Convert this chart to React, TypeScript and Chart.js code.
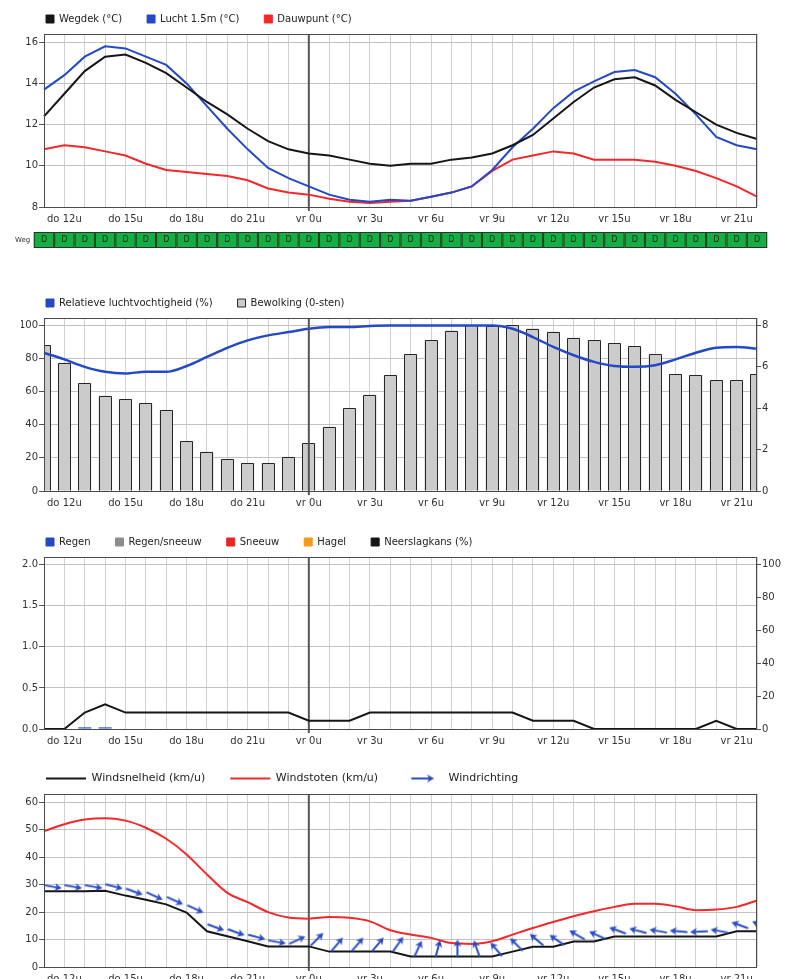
import React, { useEffect, useRef } from 'react';
import { Chart, registerables } from 'chart.js';

Chart.register(...registerables);

// ---------- data ----------
const hourLabels = [
  'do 11u', 'do 12u', 'do 13u', 'do 14u', 'do 15u', 'do 16u', 'do 17u', 'do 18u', 'do 19u', 'do 20u',
  'do 21u', 'do 22u', 'do 23u', 'vr 0u', 'vr 1u', 'vr 2u', 'vr 3u', 'vr 4u', 'vr 5u', 'vr 6u',
  'vr 7u', 'vr 8u', 'vr 9u', 'vr 10u', 'vr 11u', 'vr 12u', 'vr 13u', 'vr 14u', 'vr 15u', 'vr 16u',
  'vr 17u', 'vr 18u', 'vr 19u', 'vr 20u', 'vr 21u', 'vr 22u',
];
const dayStartLabel = 'vr 0u';

const roadTemp = [12.4, 13.5, 14.6, 15.3, 15.4, 15.0, 14.5, 13.8, 13.1, 12.5, 11.8, 11.2, 10.8, 10.6, 10.5, 10.3, 10.1, 10.0, 10.1, 10.1, 10.3, 10.4, 10.6, 11.0, 11.5, 12.3, 13.1, 13.8, 14.2, 14.3, 13.9, 13.2, 12.6, 12.0, 11.6, 11.3];
const airTemp = [13.7, 14.4, 15.3, 15.8, 15.7, 15.3, 14.9, 14.0, 12.9, 11.8, 10.8, 9.9, 9.4, 9.0, 8.6, 8.35, 8.25, 8.35, 8.3, 8.5, 8.7, 9.0, 9.8, 10.9, 11.8, 12.8, 13.6, 14.1, 14.55, 14.65, 14.3, 13.5, 12.5, 11.4, 11.0, 10.8];
const dewPoint = [10.8, 11.0, 10.9, 10.7, 10.5, 10.1, 9.8, 9.7, 9.6, 9.5, 9.3, 8.9, 8.7, 8.6, 8.4, 8.25, 8.2, 8.25, 8.3, 8.5, 8.7, 9.0, 9.75, 10.3, 10.5, 10.7, 10.6, 10.3, 10.3, 10.3, 10.2, 10.0, 9.75, 9.4, 9.0, 8.5];
const roadLabel = 'Weg';
const roadState = ['D', 'D', 'D', 'D', 'D', 'D', 'D', 'D', 'D', 'D', 'D', 'D', 'D', 'D', 'D', 'D', 'D', 'D', 'D', 'D', 'D', 'D', 'D', 'D', 'D', 'D', 'D', 'D', 'D', 'D', 'D', 'D', 'D', 'D', 'D', 'D'];

const humidity = [83.5, 79.5, 75, 72, 71, 72, 72, 75.5, 81, 86.5, 91, 94, 96, 98, 99, 99, 99.7, 100, 100, 100, 100, 100, 100, 98, 93, 87, 82, 78, 75.5, 75, 76, 79.5, 83.5, 86.5, 87, 86];
const cloudOcta = [7.05, 6.2, 5.2, 4.6, 4.45, 4.25, 3.9, 2.4, 1.9, 1.55, 1.35, 1.35, 1.65, 2.3, 3.1, 4.0, 4.65, 5.6, 6.6, 7.3, 7.75, 8.0, 7.95, 8.0, 7.85, 7.7, 7.4, 7.3, 7.15, 7.0, 6.6, 5.65, 5.6, 5.35, 5.35, 5.65];

const rain = [0, 0, 0.02, 0.02, 0, 0, 0, 0, 0, 0, 0, 0, 0, 0, 0, 0, 0, 0, 0, 0, 0, 0, 0, 0, 0, 0, 0, 0, 0, 0, 0, 0, 0, 0, 0, 0];
const sleet = [0, 0, 0, 0, 0, 0, 0, 0, 0, 0, 0, 0, 0, 0, 0, 0, 0, 0, 0, 0, 0, 0, 0, 0, 0, 0, 0, 0, 0, 0, 0, 0, 0, 0, 0, 0];
const snow = [0, 0, 0, 0, 0, 0, 0, 0, 0, 0, 0, 0, 0, 0, 0, 0, 0, 0, 0, 0, 0, 0, 0, 0, 0, 0, 0, 0, 0, 0, 0, 0, 0, 0, 0, 0];
const hail = [0, 0, 0, 0, 0, 0, 0, 0, 0, 0, 0, 0, 0, 0, 0, 0, 0, 0, 0, 0, 0, 0, 0, 0, 0, 0, 0, 0, 0, 0, 0, 0, 0, 0, 0, 0];
const precipChance = [0, 0, 10, 15, 10, 10, 10, 10, 10, 10, 10, 10, 10, 5, 5, 5, 10, 10, 10, 10, 10, 10, 10, 10, 5, 5, 5, 0, 0, 0, 0, 0, 0, 5, 0, 0];

const windSpeed = [27.6, 27.6, 27.6, 27.8, 26, 24.5, 22.8, 19.8, 13, 11.2, 9.4, 7.5, 7.5, 7.5, 5.6, 5.6, 5.6, 5.6, 3.8, 3.8, 3.8, 3.8, 3.8, 5.6, 7.4, 7.4, 9.3, 9.3, 11.1, 11.1, 11.1, 11.1, 11.1, 11.1, 13, 13];
const windGust = [49.5, 52, 53.7, 54.2, 53.3, 50.7, 46.7, 41, 33.7, 27, 23.6, 20, 18, 17.6, 18.2, 17.9, 16.6, 13.4, 11.8, 10.6, 8.7, 8.4, 9.4, 11.8, 14.2, 16.4, 18.5, 20.3, 21.9, 23, 23, 22.1, 20.7, 20.9, 21.9, 24.2];
// direction the arrow points to (degrees, 0 = up / north, 90 = right / east)
const windArrowDir = [100, 100, 100, 105, 110, 115, 115, 115, 110, 110, 105, 100, 65, 45, 40, 40, 40, 35, 25, 15, 0, 340, 320, 315, 310, 305, 300, 295, 290, 285, 280, 275, 268, 280, 290, 295];

// ---------- styling ----------
Chart.defaults.font.family = "'DejaVu Sans', Verdana, sans-serif";
Chart.defaults.font.size = 10;
Chart.defaults.color = '#333';

const BLUE = '#2548c4';
const RED = '#f4282a';
const BLACK = '#161616';
const VGRID = '#d2d2d2';
const HGRID = '#c2c2c2';

const dayLine = {
  id: 'dayLine',
  beforeDatasetsDraw(chart: any, _a: any, opts: any) {
    if (!opts.onTop) drawDayLine(chart);
  },
  afterDatasetsDraw(chart: any, _a: any, opts: any) {
    if (opts.onTop) drawDayLine(chart);
    const { ctx, chartArea: a } = chart;
    ctx.save();
    ctx.strokeStyle = '#4a4a4a';
    ctx.lineWidth = 1;
    ctx.strokeRect(a.left + 0.5, a.top + 0.5, a.right - a.left - 1, a.bottom - a.top);
    ctx.restore();
  },
};

function drawDayLine(chart: any) {
  const { ctx, chartArea: a, scales } = chart;
  const x = scales.x.getPixelForValue(hourLabels.indexOf(dayStartLabel));
  ctx.save();
  ctx.strokeStyle = '#555';
  ctx.lineWidth = 2;
  ctx.beginPath();
  ctx.moveTo(x, a.top);
  ctx.lineTo(x, a.bottom + 4);
  ctx.stroke();
  ctx.restore();
}

// crisp dark outline on top of the bars of a dataset (uses the bar elements computed by Chart.js)
const barOutline = {
  id: 'barOutline',
  afterDatasetDraw(chart: any, args: any) {
    const ds = chart.data.datasets[args.index];
    if (!ds.outlineColor) return;
    const { ctx, chartArea: a } = chart;
    ctx.save();
    ctx.beginPath();
    ctx.rect(a.left, a.top, a.right - a.left, a.bottom - a.top);
    ctx.clip();
    ctx.strokeStyle = ds.outlineColor;
    ctx.lineWidth = 1;
    args.meta.data.forEach((el: any) => {
      const { x, y, base, width } = el.getProps(['x', 'y', 'base', 'width'], true);
      const l = Math.round(x - width / 2) + 0.5;
      const r = Math.round(x + width / 2) - 0.5;
      const t = Math.round(y) + 0.5;
      ctx.beginPath();
      ctx.moveTo(l, base);
      ctx.lineTo(l, t);
      ctx.lineTo(r, t);
      ctx.lineTo(r, base);
      ctx.stroke();
    });
    ctx.restore();
  },
};

const roadRow = {
  id: 'roadRow',
  afterDraw(chart: any) {
    const { ctx, chartArea: a, scales } = chart;
    const x = scales.x;
    const step = x.getPixelForValue(1) - x.getPixelForValue(0);
    const top = a.bottom + 25;
    const h = 16;
    ctx.save();
    roadState.forEach((s, i) => {
      const cx = x.getPixelForValue(i);
      ctx.fillStyle = '#17ad45';
      ctx.fillRect(cx - step / 2, top, step, h);
      ctx.strokeStyle = '#1f3a22';
      ctx.lineWidth = 1;
      ctx.strokeRect(cx - step / 2 + 0.5, top + 0.5, step - 1, h - 1);
      ctx.fillStyle = '#1c2a1c';
      ctx.font = "8px 'DejaVu Sans'";
      ctx.textAlign = 'center';
      ctx.textBaseline = 'middle';
      ctx.fillText(s, cx, top + h / 2);
    });
    ctx.fillStyle = '#333';
    ctx.font = "7px 'DejaVu Sans'";
    ctx.textAlign = 'left';
    ctx.textBaseline = 'middle';
    ctx.fillText(roadLabel, 15, top + h / 2);
    ctx.restore();
  },
};

function xScale() {
  return {
    type: 'category',
    offset: false,
    grid: { color: VGRID, offset: false, drawTicks: false },
    border: { display: false },
    ticks: {
      autoSkip: false,
      maxRotation: 0,
      padding: 6,
      color: '#333',
      callback: (_v: any, i: number) => (i % 3 === 1 ? hourLabels[i] : ''),
    },
    afterFit: (s: any) => { s.height = 20; },
  };
}

function yScale(min: number, max: number, step: number, extra: any = {}) {
  return {
    min, max,
    ticks: { stepSize: step, includeBounds: false, padding: 1, color: '#333', ...(extra.ticks || {}) },
    grid: { color: HGRID, tickColor: '#555', tickLength: 5, drawTicks: true },
    border: { display: false },
    afterFit: (s: any) => { s.width = 23; },
  };
}

function rightScale(min: number, max: number, step: number) {
  return {
    position: 'right',
    min, max,
    ticks: { stepSize: step, includeBounds: false, padding: 1, color: '#333' },
    grid: { drawOnChartArea: false, tickColor: '#555', tickLength: 4, drawTicks: true },
    border: { display: false },
    afterFit: (s: any) => { s.width = 41; },
  };
}

function boxLegend() {
  return {
    display: true,
    position: 'top',
    align: 'start',
    labels: {
      boxWidth: 8,
      boxHeight: 8,
      padding: 25,
      color: '#222',
      font: { size: 10 },
      generateLabels: (chart: any) =>
        Chart.defaults.plugins.legend.labels.generateLabels(chart).map((it: any) => {
          const ds = chart.data.datasets[it.datasetIndex];
          return { ...it, lineWidth: 1, strokeStyle: ds.outlineColor || it.strokeStyle };
        }),
    },
  };
}

function makeArrow(deg: number, size: number, cxOff: number, cyOff: number, L: number, tailFrac: number) {
  const c = document.createElement('canvas');
  c.width = size;
  c.height = size;
  const g = c.getContext('2d')!;
  const r = (deg * Math.PI) / 180;
  const dx = Math.sin(r);
  const dy = -Math.cos(r);
  const px = size / 2 + cxOff;
  const py = size / 2 + cyOff;
  const tx = px - tailFrac * L * dx;
  const ty = py - tailFrac * L * dy;
  const hx = px + (1 - tailFrac) * L * dx;
  const hy = py + (1 - tailFrac) * L * dy;
  const hl = 7;
  const hw = 4;
  const bx = hx - hl * dx;
  const by = hy - hl * dy;
  g.strokeStyle = '#2a4cc4';
  g.fillStyle = '#2a4cc4';
  g.lineWidth = 2;
  g.lineCap = 'round';
  g.beginPath();
  g.moveTo(tx, ty);
  g.lineTo(bx + 1.5 * dx, by + 1.5 * dy);
  g.stroke();
  g.beginPath();
  g.moveTo(hx, hy);
  g.lineTo(bx - hw * dy, by + hw * dx);
  g.lineTo(bx + 2 * dx, by + 2 * dy);
  g.lineTo(bx + hw * dy, by - hw * dx);
  g.closePath();
  g.fill();
  return c;
}

// ---------- configs ----------
function tempConfig(): any {
  return {
    type: 'line',
    data: {
      labels: hourLabels,
      datasets: [
        { label: 'Wegdek (°C)', data: roadTemp, borderColor: BLACK, backgroundColor: BLACK, borderWidth: 2, pointRadius: 0, tension: 0 },
        { label: 'Lucht 1.5m (°C)', data: airTemp, borderColor: BLUE, backgroundColor: BLUE, borderWidth: 2, pointRadius: 0, tension: 0 },
        { label: 'Dauwpunt (°C)', data: dewPoint, borderColor: RED, backgroundColor: RED, borderWidth: 2, pointRadius: 0, tension: 0 },
      ],
    },
    options: {
      responsive: false,
      animation: false,
      events: [],
      layout: { padding: { left: 21, right: 41, top: 0, bottom: 24 } },
      plugins: { legend: boxLegend(), tooltip: { enabled: false }, dayLine: { onTop: false } },
      scales: { x: xScale(), y: yScale(8, 16.4, 2) },
    },
    plugins: [dayLine, roadRow],
  };
}

function cloudConfig(): any {
  return {
    type: 'bar',
    data: {
      labels: hourLabels,
      datasets: [
        { type: 'line', label: 'Relatieve luchtvochtigheid (%)', data: humidity, yAxisID: 'y', borderColor: BLUE, backgroundColor: BLUE, borderWidth: 2.5, pointRadius: 0, cubicInterpolationMode: 'monotone', order: 0 },
        { type: 'bar', label: 'Bewolking (0-sten)', data: cloudOcta, yAxisID: 'y1', backgroundColor: '#cbcbcb', borderWidth: 0, outlineColor: '#262626', barPercentage: 0.64, categoryPercentage: 1, clip: 0, order: 1 },
      ],
    },
    options: {
      responsive: false,
      animation: false,
      events: [],
      layout: { padding: { left: 21, right: 0, top: 0, bottom: 2 } },
      plugins: { legend: boxLegend(), tooltip: { enabled: false }, dayLine: { onTop: true } },
      scales: { x: xScale(), y: yScale(0, 104.5, 20), y1: rightScale(0, 8.36, 2) },
    },
    plugins: [dayLine, barOutline],
  };
}

function precipConfig(): any {
  const bar = (label: string, data: number[], color: string) => ({
    type: 'bar', label, data, yAxisID: 'y', backgroundColor: color, borderColor: color, borderWidth: 0,
    barPercentage: 0.64, categoryPercentage: 1, grouped: false, clip: 0,
  });
  return {
    type: 'bar',
    data: {
      labels: hourLabels,
      datasets: [
        bar('Regen', rain, BLUE),
        bar('Regen/sneeuw', sleet, '#8c8c8c'),
        bar('Sneeuw', snow, '#ee2222'),
        bar('Hagel', hail, '#f39a1e'),
        { type: 'line', label: 'Neerslagkans (%)', data: precipChance, yAxisID: 'y1', borderColor: BLACK, backgroundColor: BLACK, borderWidth: 2, pointRadius: 0, tension: 0 },
      ],
    },
    options: {
      responsive: false,
      animation: false,
      events: [],
      layout: { padding: { left: 21, right: 0, top: 0, bottom: 2 } },
      plugins: { legend: boxLegend(), tooltip: { enabled: false }, dayLine: { onTop: false } },
      scales: {
        x: xScale(),
        y: yScale(0, 2.094, 0.5, { ticks: { callback: (v: number) => v.toFixed(1) } }),
        y1: rightScale(0, 104.7, 20),
      },
    },
    plugins: [dayLine],
  };
}

function windConfig(): any {
  const arrowImgs = windArrowDir.map((d) => makeArrow(d, 44, 6, -5, 17, 0.3));
  const legendArrow = makeArrow(90, 26, 0, 0, 22, 0.5);
  return {
    type: 'line',
    data: {
      labels: hourLabels,
      datasets: [
        { label: 'Windsnelheid (km/u)', data: windSpeed, borderColor: BLACK, backgroundColor: BLACK, borderWidth: 2, pointRadius: 0, tension: 0, order: 1 },
        { label: 'Windstoten (km/u)', data: windGust, borderColor: RED, backgroundColor: RED, borderWidth: 2, pointRadius: 0, cubicInterpolationMode: 'monotone', order: 2 },
        {
          label: 'Windrichting', data: windSpeed, showLine: false, borderColor: BLUE, backgroundColor: BLUE,
          pointRadius: 3, pointStyle: (c: any) => arrowImgs[c.dataIndex] || arrowImgs[0], clip: 0, order: 0,
        },
      ],
    },
    options: {
      responsive: false,
      animation: false,
      events: [],
      layout: { padding: { left: 21, right: 41, top: 0, bottom: 2 } },
      plugins: {
        tooltip: { enabled: false },
        dayLine: { onTop: false },
        legend: {
          display: true,
          position: 'top',
          align: 'start',
          labels: {
            usePointStyle: true,
            pointStyleWidth: 40,
            boxHeight: 8,
            padding: 25,
            color: '#222',
            font: { size: 11 },
            sort: (a: any, b: any) => a.datasetIndex - b.datasetIndex,
            generateLabels: (chart: any) =>
              Chart.defaults.plugins.legend.labels.generateLabels(chart).map((it: any) =>
                it.datasetIndex === 2
                  ? { ...it, pointStyle: legendArrow, lineWidth: 0, rotation: 0 }
                  : { ...it, pointStyle: 'line', lineWidth: 2 }
              ),
          },
        },
      },
      scales: { x: xScale(), y: yScale(0, 63, 10) },
    },
    plugins: [dayLine],
  };
}

const panels = [
  { top: -11, height: 262, make: tempConfig },
  { top: 273, height: 240, make: cloudConfig },
  { top: 512, height: 239, make: precipConfig },
  { top: 748, height: 241, make: windConfig },
];

export default function App() {
  const refs = [useRef<HTMLCanvasElement>(null), useRef<HTMLCanvasElement>(null), useRef<HTMLCanvasElement>(null), useRef<HTMLCanvasElement>(null)];

  useEffect(() => {
    const charts = panels.map((p, i) => new Chart(refs[i].current as HTMLCanvasElement, p.make()));
    return () => charts.forEach((c) => c.destroy());
  }, []);

  return (
    <div style={{ position: 'absolute', left: 0, top: 0, width: 798, height: 979, overflow: 'hidden', background: '#fff' }}>
      {panels.map((p, i) => (
        <canvas
          key={i}
          ref={refs[i]}
          width={798}
          height={p.height}
          style={{ position: 'absolute', left: 0, top: p.top, width: 798, height: p.height, display: 'block' }}
        />
      ))}
    </div>
  );
}
